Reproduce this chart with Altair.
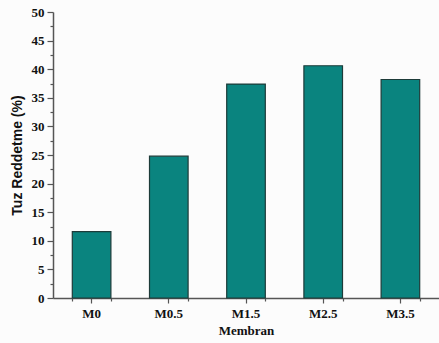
import altair as alt
import pandas as pd

# Salt rejection per membrane
membranes = ["M0", "M0.5", "M1.5", "M2.5", "M3.5"]
rejection = [11.6, 24.8, 37.4, 40.6, 38.2]

df = pd.DataFrame({"Membran": membranes, "Rejection": rejection})

serif = "Liberation Serif"
sans = "Liberation Sans"
axis_color = "#555555"

x_scale = alt.Scale(domain=membranes, paddingInner=0.5, paddingOuter=0.25)
y_scale = alt.Scale(domain=[0, 50], nice=False)

y_axis = alt.Axis(
    title="Tuz Reddetme (%)",
    values=[i * 2.5 for i in range(21)],
    labelExpr="datum.value % 5 === 0 ? datum.label : ''",
    ticks=True,
    tickSize={"expr": "datum.value % 5 === 0 ? 6 : 3"},
    labelFont=serif,
    labelFontWeight="bold",
    labelFontSize=13,
    labelColor="#111111",
    labelPadding=3,
    titleFont=sans,
    titleFontWeight="bold",
    titleFontSize=14,
    titleColor="#111111",
    titlePadding=7,
    tickColor=axis_color,
    tickWidth=1.2,
    domainColor=axis_color,
    domainWidth=1.5,
    grid=False,
)

bars = alt.Chart(df).mark_bar(
    color="#0a847f", stroke="#1d3b39", strokeWidth=1.2
).encode(
    x=alt.X(
        "Membran:N",
        sort=membranes,
        scale=x_scale,
        axis=alt.Axis(
            title="Membran",
            labelAngle=0,
            labelFont=serif,
            labelFontWeight="bold",
            labelFontSize=13,
            labelColor="#111111",
            labelPadding=4,
            titleFont=serif,
            titleFontWeight="bold",
            titleFontSize=13,
            titleColor="#111111",
            titlePadding=4,
            ticks=True,
            tickSize=5,
            tickColor=axis_color,
            tickWidth=1.2,
            domainColor=axis_color,
            domainWidth=1.5,
            grid=False,
        ),
    ),
    y=alt.Y("Rejection:Q", scale=y_scale, axis=y_axis),
)

# Short ticks between neighbouring categories
minor = alt.Chart(df).mark_point(opacity=0).encode(
    x=alt.X(
        "Membran:N",
        sort=membranes,
        scale=x_scale,
        axis=alt.Axis(
            orient="bottom",
            title=None,
            labels=False,
            domain=False,
            ticks=True,
            tickBand="extent",
            tickSize=3,
            tickColor=axis_color,
            tickWidth=1.2,
            grid=False,
        ),
    ),
    y=alt.Y("Rejection:Q", scale=y_scale, axis=y_axis),
)

chart = (
    alt.layer(bars, minor)
    .resolve_axis(x="independent")
    .properties(
        width=386,
        height=286,
        background="#fcfcfc",
        padding={"left": 53, "top": 12, "right": 0, "bottom": 45},
        autosize=alt.AutoSizeParams(type="none"),
    )
    .configure_view(stroke=None)
)

chart.save("out.html", embed_options={"renderer": "svg", "actions": False})
